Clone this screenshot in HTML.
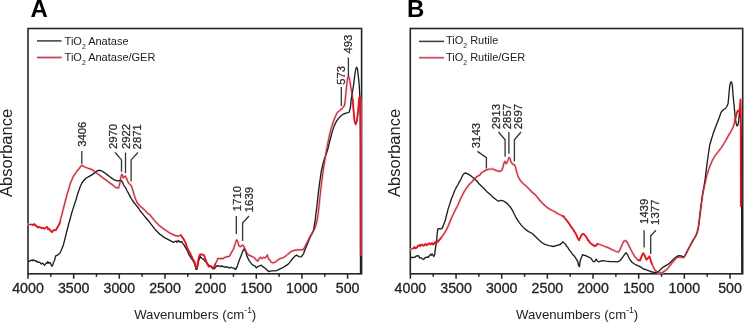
<!DOCTYPE html>
<html><head><meta charset="utf-8">
<style>
html,body{margin:0;padding:0;background:#fff;}
svg{display:block;will-change:transform;filter:blur(0.3px);}
text{font-family:"Liberation Sans",sans-serif;}
</style></head><body>
<svg width="744" height="322" viewBox="0 0 744 322">
<text x="30.4" y="16.6" font-size="24" font-weight="bold" fill="#000">A</text>
<text x="407" y="16.6" font-size="24" font-weight="bold" fill="#000">B</text>
<text transform="translate(12.3,152.9) rotate(-90)" font-size="16.5" text-anchor="middle" fill="#222" textLength="88" lengthAdjust="spacingAndGlyphs">Absorbance</text>
<text transform="translate(399.5,152.9) rotate(-90)" font-size="16.5" text-anchor="middle" fill="#222" textLength="88" lengthAdjust="spacingAndGlyphs">Absorbance</text>
<g font-size="13.2" fill="#222" text-anchor="middle">
<text x="195.2" y="318.6">Wavenumbers (cm<tspan dy="-5.5" font-size="8.5">-1</tspan><tspan dy="5.5">)</tspan></text>
<text x="577.1" y="318.6">Wavenumbers (cm<tspan dy="-5.5" font-size="8.5">-1</tspan><tspan dy="5.5">)</tspan></text>
</g>
<g font-size="14.2" fill="#222" stroke="#222" stroke-width="0.3" text-anchor="middle">
<text x="28" y="293.2">4000</text><text x="73.7" y="293.2">3500</text><text x="119.3" y="293.2">3000</text><text x="165" y="293.2">2500</text><text x="210.6" y="293.2">2000</text><text x="256.3" y="293.2">1500</text><text x="301.9" y="293.2">1000</text><text x="347.6" y="293.2">500</text>
<text x="410.4" y="293.2">4000</text><text x="456.1" y="293.2">3500</text><text x="501.7" y="293.2">3000</text><text x="547.4" y="293.2">2500</text><text x="593" y="293.2">2000</text><text x="638.7" y="293.2">1500</text><text x="684.3" y="293.2">1000</text><text x="730" y="293.2">500</text>
</g>
<g fill="none" stroke="#262626" stroke-width="1.6">
<rect x="28" y="28.5" width="333.6" height="245.3"/>
<rect x="410.3" y="28.5" width="332.4" height="245.3"/>
</g>
<path d="M28.00 273.8v5M50.83 273.8v3M73.66 273.8v5M96.49 273.8v3M119.31 273.8v5M142.14 273.8v3M164.97 273.8v5M187.80 273.8v3M210.63 273.8v5M233.46 273.8v3M256.29 273.8v5M279.11 273.8v3M301.94 273.8v5M324.77 273.8v3M347.60 273.8v5M410.40 273.8v5M433.23 273.8v3M456.06 273.8v5M478.89 273.8v3M501.71 273.8v5M524.54 273.8v3M547.37 273.8v5M570.20 273.8v3M593.03 273.8v5M615.86 273.8v3M638.69 273.8v5M661.51 273.8v3M684.34 273.8v5M707.17 273.8v3M730.00 273.8v5" stroke="#222" stroke-width="1.5" fill="none"/>
<g stroke-width="1.5">
<line x1="37" y1="57.5" x2="61.6" y2="57.5" stroke="#f0b8c0" stroke-width="2.8" opacity="0.6"/>
<line x1="419" y1="57.7" x2="444" y2="57.7" stroke="#f0b8c0" stroke-width="2.8" opacity="0.6"/>
<line x1="37" y1="40.9" x2="61.6" y2="40.9" stroke="#3a3a3a"/>
<line x1="37" y1="57.5" x2="61.6" y2="57.5" stroke="#c04555"/>
<line x1="419" y1="41.4" x2="444" y2="41.4" stroke="#3a3a3a"/>
<line x1="419" y1="57.7" x2="444" y2="57.7" stroke="#c85060"/>
</g>
<g font-size="11" fill="#222">
<text x="64.6" y="44.6">TiO<tspan dy="4" font-size="6.8">2</tspan><tspan dy="-4"> Anatase</tspan></text>
<text x="64.6" y="61">TiO<tspan dy="4" font-size="6.8">2</tspan><tspan dy="-4"> Anatase/GER</tspan></text>
<text x="446" y="44.3">TiO<tspan dy="4" font-size="6.8">2</tspan><tspan dy="-4"> Rutile</tspan></text>
<text x="446" y="61.3">TiO<tspan dy="4" font-size="6.8">2</tspan><tspan dy="-4"> Rutile/GER</tspan></text>
</g>
<g fill="none" stroke-linejoin="round" stroke-linecap="round">
<g stroke="#f0b0b8" stroke-width="2.8" opacity="0.6"><polyline points="28.5,224.3 32.1,224.6 32.9,225.0 33.7,224.5 34.5,224.1 35.3,225.4 36.1,225.6 36.9,226.4 37.7,227.5 38.5,227.2 39.3,227.0 40.1,227.4 40.9,227.6 41.7,228.1 42.5,228.3 43.3,228.1 44.1,228.5 44.9,228.6 45.7,227.6 46.5,227.3 47.3,227.1 48.1,229.2 48.9,228.8 49.7,229.6 50.5,230.7 51.3,231.6 52.1,232.0 52.9,230.8 53.7,230.3 54.5,230.3 55.3,229.8 56.1,230.0 56.9,228.2 58.1,226.3 59.2,224.2 60.0,222.3 60.8,218.3 61.6,215.6 62.4,212.6 63.2,209.4 64.0,206.2 64.8,203.0 65.6,199.8 66.4,197.2 67.2,193.7 68.0,191.4 68.8,189.0 69.6,185.9 70.4,183.4 71.2,181.3 72.0,179.5 72.8,177.5 73.6,176.0 74.4,174.7 75.2,174.1 76.0,172.8 76.8,171.1 77.6,170.6 80.0,167.4 81.6,165.4 82.5,165.6 84.8,167.0 88.0,168.2 90.0,168.9 92.5,169.9 95.0,171.8 97.5,173.6 99.9,175.5 102.4,177.4 104.9,179.2 107.4,181.1 109.9,183.0 112.4,184.8 114.8,186.7 116.7,187.9 118.6,187.9 119.8,183.6 120.8,177.4 121.7,174.3 122.5,175.5 123.3,178.0 124.2,176.7 125.4,176.1 126.6,178.6 127.9,181.7 129.1,183.6 130.6,184.9 131.8,186.8 133.1,191.1 134.3,195.5 135.6,199.2 137.4,203.0 139.9,206.1 142.4,207.9 144.9,210.4 147.4,212.9 150.0,214.9 154.9,221.1 159.9,226.1 164.9,229.8 169.8,233.0 174.8,235.4 177.9,236.1 181.0,235.2 181.8,236.5 182.6,237.5 183.4,238.8 184.2,240.2 185.0,241.8 185.8,243.1 186.6,246.0 187.4,248.4 188.2,249.8 189.0,251.4 189.8,252.6 190.6,254.2 191.4,256.1 192.2,257.5 193.0,259.8 193.8,260.7 194.6,262.2 195.4,265.2 196.2,267.9 197.0,267.6 197.8,263.2 198.6,258.6 199.4,255.8 200.2,254.3 201.0,254.6 201.8,254.7 202.6,254.4 203.4,254.8 204.2,255.7 205.0,258.1 205.8,260.0 206.6,262.6 207.4,264.2 208.2,265.6 209.0,266.6 209.8,266.6 210.6,266.0 211.4,266.4 212.2,267.5 213.0,267.9 213.8,267.4 214.6,265.7 215.4,263.8 216.2,262.3 217.0,260.6 217.8,258.7 218.6,258.3 219.4,258.7 220.2,258.9 221.0,258.2 221.8,258.7 222.6,258.7 223.4,258.6 224.2,257.7 225.0,257.3 225.8,257.1 226.6,256.8 227.4,256.5 228.2,256.6 229.0,256.5 229.8,255.6 230.6,254.1 233.6,248.7 235.0,244.4 236.4,240.1 237.1,240.1 237.9,242.3 239.0,245.9 240.7,246.6 242.4,245.1 243.6,245.9 245.0,248.7 246.4,252.3 248.6,255.1 250.7,255.9 252.9,257.0 254.1,257.3 256.3,260.1 257.7,261.1 259.1,258.7 260.6,257.3 262.0,258.7 263.4,257.3 264.9,258.0 266.3,256.6 267.4,255.1 268.4,258.7 269.9,260.1 271.3,262.3 272.7,263.0 274.9,262.3 277.7,260.1 280.6,258.3 282.7,258.0 284.9,256.6 287.7,254.4 291.1,251.5 294.2,250.4 297.3,249.9 300.4,249.9 302.8,249.9 304.5,247.6 306.4,243.7 309.2,238.3 311.8,233.6 314.1,229.8 315.7,225.9 316.9,221.2 317.5,218.0 319.0,206.6 320.3,193.5 321.6,182.3 323.1,171.2 324.3,163.7 326.5,150.0 328.1,141.9 330.4,131.1 332.8,123.3 335.1,117.1 337.4,112.4 339.7,110.6 341.3,109.3 342.7,107.7 344.5,105.3 345.3,99.4 346.0,92.4 346.6,86.0 347.3,80.0 348.4,75.7 349.5,79.0 350.5,84.8 351.7,92.3 352.8,99.4 353.6,111.3 354.5,120.7 355.7,124.2 356.9,120.7 358.1,111.3 359.3,97.5 359.8,96.5 360.3,100.0 360.6,115.0 360.7,255.0"/><polyline points="410.8,249.5 413.7,248.1 414.5,247.0 415.3,248.4 416.1,247.7 416.9,247.7 417.7,245.9 418.5,245.8 419.3,245.1 420.1,246.1 420.9,244.9 421.7,244.5 422.5,244.9 423.3,245.7 424.1,245.5 424.9,244.4 425.7,244.0 426.5,245.3 427.3,244.5 428.1,244.6 428.9,243.4 429.7,243.3 430.5,244.4 431.3,243.8 432.1,243.1 432.9,244.5 433.7,243.6 434.5,243.7 435.3,242.0 436.1,242.9 436.9,241.0 437.7,241.9 440.7,238.3 443.5,234.6 446.3,229.9 448.7,225.0 451.0,219.0 454.5,211.6 457.9,205.0 460.7,198.5 463.5,192.9 466.3,188.3 469.1,184.6 471.9,181.8 474.2,179.0 476.6,176.8 479.7,175.1 481.6,172.7 484.4,170.9 487.2,169.6 490.0,169.0 492.8,169.0 496.0,170.4 498.5,171.2 500.0,171.4 502.0,169.9 503.0,167.0 504.0,162.9 505.0,161.2 506.0,163.9 506.9,162.9 508.9,157.6 509.9,158.1 510.9,161.6 512.4,163.9 514.4,164.9 515.5,167.0 516.4,170.9 517.9,175.9 519.9,179.9 522.9,183.4 525.9,185.8 528.9,188.8 532.4,192.5 534.9,194.3 537.4,197.4 539.9,200.5 542.4,203.1 544.8,205.5 547.3,207.5 549.8,209.2 552.3,210.5 554.8,211.7 557.3,213.5 560.0,214.8 560.8,215.0 561.6,215.5 562.4,216.1 563.2,216.1 564.0,216.9 564.8,218.3 565.6,219.0 566.4,220.0 567.2,221.1 568.0,222.0 568.8,223.3 569.6,224.4 570.4,225.5 571.2,227.0 572.0,227.6 572.8,229.1 573.6,230.1 574.4,231.6 575.2,232.6 576.0,234.3 576.8,235.7 577.6,238.0 578.4,239.4 579.2,240.1 580.0,237.8 580.8,236.8 581.6,234.8 582.4,234.3 583.2,233.9 584.0,234.4 584.8,235.2 585.6,235.9 586.4,237.2 587.2,238.6 588.0,240.1 588.8,240.7 589.6,242.3 590.4,243.0 591.2,243.7 592.0,244.2 592.8,244.9 593.6,245.5 594.4,246.0 595.2,245.5 596.0,245.8 596.8,244.7 597.6,243.8 600.6,244.8 604.3,246.3 608.0,247.6 611.8,249.5 615.5,251.3 618.3,252.2 620.1,249.5 622.0,244.8 623.9,241.1 625.7,240.7 627.6,243.0 629.4,246.7 632.2,252.2 635.0,256.9 637.8,259.9 639.9,260.6 641.4,256.9 643.2,253.2 644.5,255.0 646.4,259.7 648.2,257.8 649.5,256.3 651.0,261.6 652.0,264.0 653.9,268.3 655.7,270.8 657.6,272.3 659.5,272.9 661.9,272.6 664.4,271.4 666.9,269.3 669.4,266.4 671.9,263.1 674.4,260.2 676.8,257.7 678.7,256.9 681.2,257.1 683.1,257.7 684.5,256.5 686.2,253.4 688.0,249.7 690.5,245.0 692.7,240.9 694.5,238.0 696.0,235.4 697.2,232.2 698.1,228.9 699.0,223.0 699.7,217.0 701.0,206.1 702.5,195.2 704.0,188.0 705.4,181.9 707.1,174.2 709.8,166.4 712.4,160.2 715.2,155.5 718.3,151.6 721.4,147.5 723.7,144.0 725.5,141.0 728.1,136.1 730.6,132.1 733.2,127.0 735.0,120.6 736.3,114.7 737.5,111.2 738.6,110.4 739.5,112.5 740.2,104.0 740.5,99.5 740.7,110.0 740.8,206.0"/></g>
<g stroke="#1e1e1e" stroke-width="1.35"><polyline points="28.5,261.3 31.0,260.5 31.8,260.1 32.6,260.7 33.4,259.7 34.2,260.6 35.0,260.7 35.8,260.7 36.6,261.8 37.4,261.5 38.2,262.4 39.0,262.1 39.8,262.4 40.6,263.1 41.4,264.0 42.2,263.1 43.0,263.5 43.8,264.4 44.6,265.2 45.4,264.2 46.2,263.1 47.0,263.4 47.8,261.6 48.6,263.2 49.4,262.6 50.2,262.6 51.0,264.4 51.8,266.2 52.6,265.4 53.4,262.8 54.2,261.2 55.0,258.6 55.8,255.6 56.6,255.6 57.4,255.2 59.8,253.3 61.5,249.8 63.4,244.9 64.9,238.9 66.4,232.9 67.9,227.0 69.4,221.5 71.9,212.4 73.7,206.6 76.0,199.8 77.7,193.8 79.9,187.6 81.9,183.0 84.2,180.0 86.2,178.0 88.3,176.9 91.0,175.4 93.3,173.9 95.3,172.4 96.8,170.9 98.7,170.3 100.6,170.5 102.4,171.4 104.9,173.0 107.4,174.9 109.9,176.7 112.4,178.6 114.8,180.2 117.3,180.8 119.8,180.5 121.1,180.5 122.3,181.7 123.5,184.8 125.4,187.3 126.9,190.5 128.7,193.6 130.6,197.4 132.5,200.5 134.3,203.0 136.2,205.4 138.7,208.5 140.5,211.3 142.5,213.6 145.0,216.8 150.0,222.8 154.9,229.2 159.9,234.2 164.9,237.9 169.8,240.4 173.6,242.3 176.1,241.0 177.0,242.3 178.5,240.5 179.3,241.2 180.1,242.3 180.9,241.9 181.7,241.5 182.5,243.1 183.3,244.1 184.1,245.0 184.9,246.7 185.7,248.0 186.5,249.0 187.3,251.0 188.1,252.5 188.9,254.6 189.7,255.9 190.5,256.6 191.3,258.8 192.1,258.9 192.9,260.4 193.7,261.9 194.5,263.2 195.3,266.1 196.1,269.4 196.9,269.4 197.7,266.1 198.5,261.3 199.3,259.1 200.1,256.4 200.9,257.6 201.7,258.2 202.5,258.7 203.3,259.1 204.1,260.2 204.9,261.1 205.7,261.4 206.5,262.6 207.3,262.9 208.1,264.7 208.9,265.2 209.7,266.2 210.5,266.7 211.3,266.8 212.1,267.7 212.9,268.8 213.7,268.8 214.5,268.6 215.3,267.4 216.1,266.6 216.9,265.7 217.7,266.3 218.5,265.7 219.3,266.0 220.1,266.2 220.9,266.7 221.7,265.8 222.5,266.3 223.3,266.5 224.1,267.0 224.9,267.0 225.7,267.2 226.5,266.7 227.3,267.1 228.1,267.2 228.9,267.9 229.7,268.1 230.5,267.3 231.3,267.4 232.1,267.7 232.9,267.8 235.7,269.4 237.1,266.6 238.6,262.3 240.7,256.6 242.9,250.9 244.3,248.7 245.7,251.6 247.1,256.6 249.3,260.9 251.4,263.7 253.4,265.4 254.9,265.9 256.3,268.0 257.7,266.6 259.9,265.9 261.3,265.1 262.7,266.6 264.9,268.0 267.0,270.1 269.1,271.6 271.3,270.9 273.4,270.9 275.6,270.9 277.7,270.1 280.6,268.7 283.4,267.3 286.3,265.4 288.0,264.4 290.3,261.6 292.7,258.5 295.0,256.1 296.5,255.1 298.9,256.6 301.2,256.9 303.5,253.8 305.2,249.2 307.8,243.0 310.3,236.7 312.0,233.6 313.5,230.5 314.3,225.9 315.1,221.2 315.9,213.5 316.9,206.6 318.2,193.5 319.7,182.3 321.3,171.2 323.2,162.8 325.5,156.0 327.6,150.0 329.6,141.9 332.0,132.6 334.3,125.6 336.6,121.0 339.0,117.9 341.3,115.5 343.6,114.0 346.0,113.2 348.0,112.6 349.2,112.2 350.4,107.7 351.2,99.4 352.3,93.0 353.6,84.8 354.8,74.9 355.8,69.0 356.7,67.2 357.5,69.0 358.2,74.9 359.2,84.8 359.8,96.0 360.2,115.0 360.4,140.0 360.5,273.0"/><polyline points="410.8,257.5 414.7,257.4 415.5,256.6 416.3,255.9 417.1,256.2 417.9,255.6 418.7,255.8 419.5,257.9 420.3,257.8 421.1,257.7 421.9,258.6 422.7,259.0 423.5,259.5 424.3,258.7 425.1,257.5 425.9,257.5 426.7,257.3 427.5,256.9 428.3,257.3 429.1,256.1 429.9,255.3 430.7,254.0 431.5,255.2 432.3,254.0 433.8,256.5 434.7,254.7 435.2,250.0 435.9,245.3 436.6,240.7 437.1,235.0 437.5,231.0 437.9,229.0 439.8,228.6 440.6,229.0 441.4,228.6 442.2,228.1 443.0,226.4 443.8,224.0 444.6,222.3 445.4,220.0 446.2,216.3 447.0,213.6 447.8,210.1 448.6,207.4 449.4,205.1 450.2,202.8 451.0,200.0 451.8,198.1 452.6,196.1 453.4,193.9 454.2,191.8 455.0,190.0 455.8,188.5 456.6,186.6 457.4,185.7 458.2,184.2 459.0,182.4 459.8,181.1 460.6,179.8 463.3,174.3 465.1,173.0 467.9,173.9 470.7,175.8 473.5,178.0 476.3,180.5 478.8,183.5 481.6,186.3 484.4,189.1 487.2,191.9 490.0,194.3 492.8,196.9 495.6,199.3 498.3,201.2 501.1,200.3 503.9,201.2 506.7,203.1 509.5,205.9 512.3,210.0 515.6,216.8 518.4,221.4 521.2,225.1 524.9,228.9 528.6,231.7 532.3,233.5 535.1,236.3 537.9,239.1 541.7,242.5 545.4,244.7 549.1,245.6 553.5,246.5 557.0,245.3 557.8,245.1 558.6,245.2 559.4,244.5 560.2,244.7 561.0,243.7 561.8,242.9 562.6,242.1 563.4,242.0 564.2,243.2 565.0,243.8 565.8,244.6 566.6,246.5 567.4,246.9 568.2,248.2 569.0,249.6 569.8,250.5 570.6,251.3 571.4,252.6 572.2,253.7 573.0,255.0 573.8,255.3 574.6,256.8 575.4,257.6 576.2,258.8 577.0,260.5 577.8,261.5 578.6,265.7 579.4,266.7 580.2,260.9 581.0,258.5 581.8,256.7 582.6,254.7 583.4,255.0 584.2,255.4 585.0,255.4 585.8,255.8 586.6,256.0 587.4,256.7 588.2,256.8 589.0,257.2 589.8,257.7 590.6,257.8 591.4,258.9 592.2,260.2 593.0,261.3 593.8,261.8 594.6,261.6 595.4,260.4 596.2,259.1 597.0,260.4 597.8,261.2 598.6,261.8 602.4,260.6 606.2,261.2 609.9,261.6 613.6,261.6 617.3,261.9 620.1,260.6 622.9,256.9 624.8,254.1 626.3,252.8 627.6,255.0 629.4,258.8 632.2,262.5 635.0,264.3 637.8,265.6 640.8,267.1 643.6,269.0 646.4,269.9 649.2,270.9 652.0,272.0 654.5,272.4 657.0,272.3 658.8,271.4 660.7,269.3 663.2,267.1 665.7,265.6 668.1,264.3 670.6,262.3 673.1,259.6 676.2,256.9 678.7,255.6 681.2,255.9 683.1,256.9 684.5,256.5 686.2,253.4 688.0,249.7 690.5,245.0 692.7,240.9 694.5,238.0 696.0,235.4 697.2,232.2 698.1,228.9 699.0,223.0 699.7,217.0 701.0,206.1 702.5,195.2 704.0,186.5 705.2,179.0 705.9,172.6 707.1,163.3 708.4,154.0 709.8,144.7 711.5,139.0 713.5,132.6 716.1,125.8 718.7,118.9 721.2,112.1 723.5,109.5 725.5,108.5 726.8,106.5 728.1,103.5 728.9,94.8 729.7,86.1 730.4,83.0 731.2,81.8 731.9,83.0 732.4,86.1 733.0,94.8 733.9,103.5 735.3,118.6 736.6,125.5 737.5,125.8 738.4,123.6 739.0,117.4 739.7,112.0 740.5,115.0 741.5,140.0 741.8,273.0"/></g>
<g stroke="#c02c3c" stroke-width="1.2"><polyline points="28.5,224.3 32.1,224.6 32.9,225.0 33.7,224.5 34.5,224.1 35.3,225.4 36.1,225.6 36.9,226.4 37.7,227.5 38.5,227.2 39.3,227.0 40.1,227.4 40.9,227.6 41.7,228.1 42.5,228.3 43.3,228.1 44.1,228.5 44.9,228.6 45.7,227.6 46.5,227.3 47.3,227.1 48.1,229.2 48.9,228.8 49.7,229.6 50.5,230.7 51.3,231.6 52.1,232.0 52.9,230.8 53.7,230.3 54.5,230.3 55.3,229.8 56.1,230.0 56.9,228.2 58.1,226.3 59.2,224.2 60.0,222.3 60.8,218.3 61.6,215.6 62.4,212.6 63.2,209.4 64.0,206.2 64.8,203.0 65.6,199.8 66.4,197.2 67.2,193.7 68.0,191.4 68.8,189.0 69.6,185.9 70.4,183.4 71.2,181.3 72.0,179.5 72.8,177.5 73.6,176.0 74.4,174.7 75.2,174.1 76.0,172.8 76.8,171.1 77.6,170.6 80.0,167.4 81.6,165.4 82.5,165.6 84.8,167.0 88.0,168.2 90.0,168.9 92.5,169.9 95.0,171.8 97.5,173.6 99.9,175.5 102.4,177.4 104.9,179.2 107.4,181.1 109.9,183.0 112.4,184.8 114.8,186.7 116.7,187.9 118.6,187.9 119.8,183.6 120.8,177.4 121.7,174.3 122.5,175.5 123.3,178.0 124.2,176.7 125.4,176.1 126.6,178.6 127.9,181.7 129.1,183.6 130.6,184.9 131.8,186.8 133.1,191.1 134.3,195.5 135.6,199.2 137.4,203.0 139.9,206.1 142.4,207.9 144.9,210.4 147.4,212.9 150.0,214.9 154.9,221.1 159.9,226.1 164.9,229.8 169.8,233.0 174.8,235.4 177.9,236.1 181.0,235.2 181.8,236.5 182.6,237.5 183.4,238.8 184.2,240.2 185.0,241.8 185.8,243.1 186.6,246.0 187.4,248.4 188.2,249.8 189.0,251.4 189.8,252.6 190.6,254.2 191.4,256.1 192.2,257.5 193.0,259.8 193.8,260.7 194.6,262.2 195.4,265.2 196.2,267.9 197.0,267.6 197.8,263.2 198.6,258.6 199.4,255.8 200.2,254.3 201.0,254.6 201.8,254.7 202.6,254.4 203.4,254.8 204.2,255.7 205.0,258.1 205.8,260.0 206.6,262.6 207.4,264.2 208.2,265.6 209.0,266.6 209.8,266.6 210.6,266.0 211.4,266.4 212.2,267.5 213.0,267.9 213.8,267.4 214.6,265.7 215.4,263.8 216.2,262.3 217.0,260.6 217.8,258.7 218.6,258.3 219.4,258.7 220.2,258.9 221.0,258.2 221.8,258.7 222.6,258.7 223.4,258.6 224.2,257.7 225.0,257.3 225.8,257.1 226.6,256.8 227.4,256.5 228.2,256.6 229.0,256.5 229.8,255.6 230.6,254.1 233.6,248.7 235.0,244.4 236.4,240.1 237.1,240.1 237.9,242.3 239.0,245.9 240.7,246.6 242.4,245.1 243.6,245.9 245.0,248.7 246.4,252.3 248.6,255.1 250.7,255.9 252.9,257.0 254.1,257.3 256.3,260.1 257.7,261.1 259.1,258.7 260.6,257.3 262.0,258.7 263.4,257.3 264.9,258.0 266.3,256.6 267.4,255.1 268.4,258.7 269.9,260.1 271.3,262.3 272.7,263.0 274.9,262.3 277.7,260.1 280.6,258.3 282.7,258.0 284.9,256.6 287.7,254.4 291.1,251.5 294.2,250.4 297.3,249.9 300.4,249.9 302.8,249.9 304.5,247.6 306.4,243.7 309.2,238.3 311.8,233.6 314.1,229.8 315.7,225.9 316.9,221.2 317.5,218.0 319.0,206.6 320.3,193.5 321.6,182.3 323.1,171.2 324.3,163.7 326.5,150.0 328.1,141.9 330.4,131.1 332.8,123.3 335.1,117.1 337.4,112.4 339.7,110.6 341.3,109.3 342.7,107.7 344.5,105.3 345.3,99.4 346.0,92.4 346.6,86.0 347.3,80.0 348.4,75.7 349.5,79.0 350.5,84.8 351.7,92.3 352.8,99.4 353.6,111.3 354.5,120.7 355.7,124.2 356.9,120.7 358.1,111.3 359.3,97.5 359.8,96.5 360.3,100.0 360.6,115.0 360.7,255.0"/><polyline points="410.8,249.5 413.7,248.1 414.5,247.0 415.3,248.4 416.1,247.7 416.9,247.7 417.7,245.9 418.5,245.8 419.3,245.1 420.1,246.1 420.9,244.9 421.7,244.5 422.5,244.9 423.3,245.7 424.1,245.5 424.9,244.4 425.7,244.0 426.5,245.3 427.3,244.5 428.1,244.6 428.9,243.4 429.7,243.3 430.5,244.4 431.3,243.8 432.1,243.1 432.9,244.5 433.7,243.6 434.5,243.7 435.3,242.0 436.1,242.9 436.9,241.0 437.7,241.9 440.7,238.3 443.5,234.6 446.3,229.9 448.7,225.0 451.0,219.0 454.5,211.6 457.9,205.0 460.7,198.5 463.5,192.9 466.3,188.3 469.1,184.6 471.9,181.8 474.2,179.0 476.6,176.8 479.7,175.1 481.6,172.7 484.4,170.9 487.2,169.6 490.0,169.0 492.8,169.0 496.0,170.4 498.5,171.2 500.0,171.4 502.0,169.9 503.0,167.0 504.0,162.9 505.0,161.2 506.0,163.9 506.9,162.9 508.9,157.6 509.9,158.1 510.9,161.6 512.4,163.9 514.4,164.9 515.5,167.0 516.4,170.9 517.9,175.9 519.9,179.9 522.9,183.4 525.9,185.8 528.9,188.8 532.4,192.5 534.9,194.3 537.4,197.4 539.9,200.5 542.4,203.1 544.8,205.5 547.3,207.5 549.8,209.2 552.3,210.5 554.8,211.7 557.3,213.5 560.0,214.8 560.8,215.0 561.6,215.5 562.4,216.1 563.2,216.1 564.0,216.9 564.8,218.3 565.6,219.0 566.4,220.0 567.2,221.1 568.0,222.0 568.8,223.3 569.6,224.4 570.4,225.5 571.2,227.0 572.0,227.6 572.8,229.1 573.6,230.1 574.4,231.6 575.2,232.6 576.0,234.3 576.8,235.7 577.6,238.0 578.4,239.4 579.2,240.1 580.0,237.8 580.8,236.8 581.6,234.8 582.4,234.3 583.2,233.9 584.0,234.4 584.8,235.2 585.6,235.9 586.4,237.2 587.2,238.6 588.0,240.1 588.8,240.7 589.6,242.3 590.4,243.0 591.2,243.7 592.0,244.2 592.8,244.9 593.6,245.5 594.4,246.0 595.2,245.5 596.0,245.8 596.8,244.7 597.6,243.8 600.6,244.8 604.3,246.3 608.0,247.6 611.8,249.5 615.5,251.3 618.3,252.2 620.1,249.5 622.0,244.8 623.9,241.1 625.7,240.7 627.6,243.0 629.4,246.7 632.2,252.2 635.0,256.9 637.8,259.9 639.9,260.6 641.4,256.9 643.2,253.2 644.5,255.0 646.4,259.7 648.2,257.8 649.5,256.3 651.0,261.6 652.0,264.0 653.9,268.3 655.7,270.8 657.6,272.3 659.5,272.9 661.9,272.6 664.4,271.4 666.9,269.3 669.4,266.4 671.9,263.1 674.4,260.2 676.8,257.7 678.7,256.9 681.2,257.1 683.1,257.7 684.5,256.5 686.2,253.4 688.0,249.7 690.5,245.0 692.7,240.9 694.5,238.0 696.0,235.4 697.2,232.2 698.1,228.9 699.0,223.0 699.7,217.0 701.0,206.1 702.5,195.2 704.0,188.0 705.4,181.9 707.1,174.2 709.8,166.4 712.4,160.2 715.2,155.5 718.3,151.6 721.4,147.5 723.7,144.0 725.5,141.0 728.1,136.1 730.6,132.1 733.2,127.0 735.0,120.6 736.3,114.7 737.5,111.2 738.6,110.4 739.5,112.5 740.2,104.0 740.5,99.5 740.7,110.0 740.8,206.0"/></g>
<g stroke="#e01420" stroke-width="1.5"><polyline points="32.1,224.6 32.9,225.0 33.7,224.5 34.5,224.1 35.3,225.4 36.1,225.6 36.9,226.4 37.7,227.5 38.5,227.2 39.3,227.0 40.1,227.4 40.9,227.6 41.7,228.1 42.5,228.3 43.3,228.1 44.1,228.5 44.9,228.6 45.7,227.6 46.5,227.3 47.3,227.1 48.1,229.2 48.9,228.8 49.7,229.6 50.5,230.7 51.3,231.6 52.1,232.0 52.9,230.8 53.7,230.3 54.5,230.3 55.3,229.8 56.1,230.0 56.9,228.2 58.1,226.3 59.2,224.2 60.0,222.3"/><polyline points="181.0,235.2 181.8,236.5 182.6,237.5 183.4,238.8 184.2,240.2 185.0,241.8 185.8,243.1 186.6,246.0 187.4,248.4 188.2,249.8 189.0,251.4 189.8,252.6 190.6,254.2 191.4,256.1 192.2,257.5 193.0,259.8 193.8,260.7 194.6,262.2 195.4,265.2 196.2,267.9 197.0,267.6 197.8,263.2 198.6,258.6 199.4,255.8 200.2,254.3 201.0,254.6 201.8,254.7 202.6,254.4 203.4,254.8 204.2,255.7 205.0,258.1 205.8,260.0 206.6,262.6 207.4,264.2 208.2,265.6 209.0,266.6 209.8,266.6 210.6,266.0 211.4,266.4 212.2,267.5 213.0,267.9 213.8,267.4 214.6,265.7 215.4,263.8"/><polyline points="413.7,248.1 414.5,247.0 415.3,248.4 416.1,247.7 416.9,247.7 417.7,245.9 418.5,245.8 419.3,245.1 420.1,246.1 420.9,244.9 421.7,244.5 422.5,244.9 423.3,245.7 424.1,245.5 424.9,244.4 425.7,244.0 426.5,245.3 427.3,244.5 428.1,244.6 428.9,243.4 429.7,243.3 430.5,244.4 431.3,243.8 432.1,243.1 432.9,244.5 433.7,243.6 434.5,243.7 435.3,242.0 436.1,242.9 436.9,241.0 437.7,241.9 440.7,238.3"/><polyline points="562.4,216.1 563.2,216.1 564.0,216.9 564.8,218.3 565.6,219.0 566.4,220.0 567.2,221.1 568.0,222.0 568.8,223.3 569.6,224.4 570.4,225.5 571.2,227.0 572.0,227.6 572.8,229.1 573.6,230.1 574.4,231.6 575.2,232.6 576.0,234.3 576.8,235.7 577.6,238.0 578.4,239.4 579.2,240.1 580.0,237.8 580.8,236.8 581.6,234.8 582.4,234.3 583.2,233.9 584.0,234.4 584.8,235.2 585.6,235.9 586.4,237.2 587.2,238.6 588.0,240.1 588.8,240.7 589.6,242.3 590.4,243.0 591.2,243.7 592.0,244.2 592.8,244.9 593.6,245.5 594.4,246.0 595.2,245.5 596.0,245.8 596.8,244.7 597.6,243.8"/><polyline points="637.8,259.9 639.9,260.6 641.4,256.9 643.2,253.2 644.5,255.0 646.4,259.7 648.2,257.8 649.5,256.3 651.0,261.6 652.0,264.0"/><polyline points="735.0,120.6 736.3,114.7 737.5,111.2 738.6,110.4 739.5,112.5 740.2,104.0 740.5,99.5 740.7,110.0 740.8,206.0"/><polyline points="352.8,99.4 353.6,111.3 354.5,120.7 355.7,124.2 356.9,120.7 358.1,111.3 359.3,97.5 359.8,96.5 360.3,100.0 360.6,115.0 360.7,255.0"/></g>
</g>
<g font-size="11.5" fill="#2a2a2a" stroke="#2a2a2a" stroke-width="0.25" text-anchor="middle">
<text transform="translate(85.6,134.2) rotate(-90)" textLength="25.2" lengthAdjust="spacingAndGlyphs">3406</text>
<text transform="translate(117.1,136.5) rotate(-90)" textLength="25.2" lengthAdjust="spacingAndGlyphs">2970</text>
<text transform="translate(129.5,136.5) rotate(-90)" textLength="25.2" lengthAdjust="spacingAndGlyphs">2922</text>
<text transform="translate(141.3,136.8) rotate(-90)" textLength="25.2" lengthAdjust="spacingAndGlyphs">2871</text>
<text transform="translate(240.6,198.6) rotate(-90)" textLength="25.2" lengthAdjust="spacingAndGlyphs">1710</text>
<text transform="translate(253.3,199.6) rotate(-90)" textLength="25.2" lengthAdjust="spacingAndGlyphs">1639</text>
<text transform="translate(351.8,44.1) rotate(-90)" textLength="18.8" lengthAdjust="spacingAndGlyphs">493</text>
<text transform="translate(345.2,75.3) rotate(-90)" textLength="18.8" lengthAdjust="spacingAndGlyphs">573</text>
<text transform="translate(480.2,135.6) rotate(-90)" textLength="25.2" lengthAdjust="spacingAndGlyphs">3143</text>
<text transform="translate(499.8,116.6) rotate(-90)" textLength="25.2" lengthAdjust="spacingAndGlyphs">2913</text>
<text transform="translate(511.4,116.6) rotate(-90)" textLength="25.2" lengthAdjust="spacingAndGlyphs">2857</text>
<text transform="translate(522.3,116.6) rotate(-90)" textLength="25.2" lengthAdjust="spacingAndGlyphs">2697</text>
<text transform="translate(647.5,211.4) rotate(-90)" textLength="25.2" lengthAdjust="spacingAndGlyphs">1439</text>
<text transform="translate(659.0,212.3) rotate(-90)" textLength="25.2" lengthAdjust="spacingAndGlyphs">1377</text>
</g>
<path stroke="#333" stroke-width="1.3" fill="none" d="M81.8 151 V164 M115.2 152.5 L121.5 159.9 V171.7 M125.5 152.5 V173 M137.9 152.5 L131.1 159.9 V181.6 M236.3 216 V234 M249 216 L242.6 223 V241 M341.3 87 V106 M348.4 57.5 V76 M477.4 151.4 L486.4 157.6 V168.5 M498.5 132 L505.1 139.8 V156.8 M508.9 132 V153.7 M521 132 L514.4 139.8 V161.5 M644.1 230.2 V247.6 M656 230.2 L650.7 235.7 V254"/>
</svg>
</body></html>
